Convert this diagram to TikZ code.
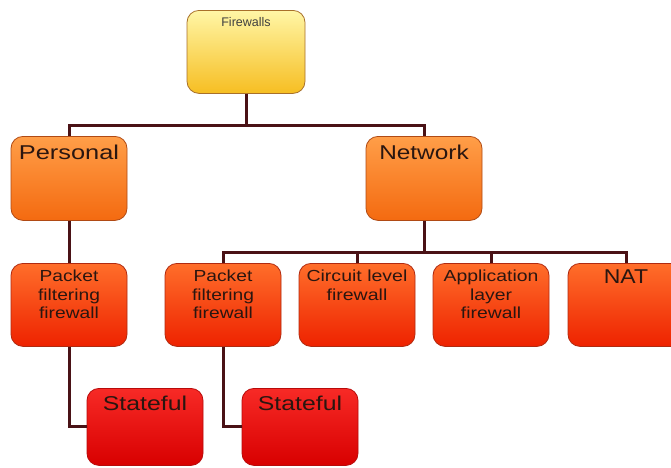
\documentclass[tikz,border=0pt]{standalone}
\usepackage{fontspec}
\setmainfont{Liberation Sans}
\definecolor{fwTop}{HTML}{FFF6A6}
\definecolor{fwBot}{HTML}{F6BE22}
\definecolor{fwEdge}{HTML}{A8702A}
\definecolor{orTop}{HTML}{FF9E48}
\definecolor{orBot}{HTML}{F46A10}
\definecolor{orEdge}{HTML}{B04A14}
\definecolor{rdTop}{HTML}{FF6E2A}
\definecolor{rdBot}{HTML}{EE2200}
\definecolor{rdEdge}{HTML}{B02A10}
\definecolor{stTop}{HTML}{F72A26}
\definecolor{stBot}{HTML}{D80000}
\definecolor{stEdge}{HTML}{B80A0A}
\definecolor{connC}{HTML}{4A1216}
\definecolor{txtC}{HTML}{2A1610}
\newcommand\hstr[2]{\scalebox{#1}[1]{#2}}
\begin{document}
\begin{tikzpicture}[x=1pt,y=-1pt,
  basebox/.style={rounded corners=12pt, minimum width=116pt, inner sep=0pt, anchor=north, line width=0.8pt},
  fwbox/.style={basebox, minimum width=118pt, minimum height=83pt, top color=fwTop, bottom color=fwBot, draw=fwEdge},
  orbox/.style={basebox, minimum height=84pt, top color=orTop, bottom color=orBot, draw=orEdge},
  rdbox/.style={basebox, minimum height=83pt, top color=rdTop, bottom color=rdBot, draw=rdEdge},
  stbox/.style={basebox, minimum height=77pt, top color=stTop, bottom color=stBot, draw=stEdge},
  conn/.style={draw=connC, line width=3pt, line join=miter},
  txt/.style={anchor=north, inner sep=0pt, text=txtC, align=center},
  bigtxt/.style={txt, font=\fontsize{20}{24}\selectfont},
  midtxt/.style={txt, font=\fontsize{16}{18.5}\selectfont},
  fwtxt/.style={txt, text=black!75, font=\fontsize{12.5}{15}\selectfont}
]
\useasboundingbox (0,0) rectangle (671,467);
\clip (0,0) rectangle (671,467);
\fill[white] (0,0) rectangle (671,467);

% boxes
\node[fwbox] (fw) at (246,10) {};
\node[orbox] (per) at (69,136) {};
\node[orbox] (net) at (424,136) {};
\node[rdbox] (pf1) at (69,263) {};
\node[rdbox] (pf2) at (223,263) {};
\node[rdbox] (cl) at (357,263) {};
\node[rdbox] (al) at (491,263) {};
\node[rdbox] (nat) at (626,263) {};
\node[stbox] (st1) at (145,388) {};
\node[stbox] (st2) at (300,388) {};

% connectors
\coordinate (j1) at (246,125);
\coordinate (j2) at (424,252);
\draw[conn] (fw.south) -- (j1);
\draw[conn] (per.north) |- (j1) -| (net.north);
\draw[conn] (net.south) -- (j2);
\draw[conn] (pf2.north) |- (j2) -| (nat.north);
\draw[conn] (cl.north) -- (cl.north |- j2);
\draw[conn] (al.north) -- (al.north |- j2);
\draw[conn] (per.south) -- (pf1.north);
\draw[conn] (pf1.south) |- (st1.west);
\draw[conn] (pf2.south) |- (st2.west);

% texts
\node[fwtxt] (fwT) at (246,17) {Firewalls};
\node[bigtxt] (perT) at (69,145) {\hstr{1.27}{Personal}};
\node[bigtxt] (netT) at (424,145) {\hstr{1.22}{Network}};
\node[midtxt] (pf1T) at (69,270) {\hstr{1.2}{Packet}\\\hstr{1.2}{filtering}\\\hstr{1.2}{firewall}};
\node[midtxt] (pf2T) at (223,270) {\hstr{1.2}{Packet}\\\hstr{1.2}{filtering}\\\hstr{1.2}{firewall}};
\node[midtxt] (clT) at (357,270) {\hstr{1.22}{Circuit level}\\\hstr{1.22}{firewall}};
\node[midtxt] (alT) at (491,270) {\hstr{1.21}{Application}\\\hstr{1.21}{layer}\\\hstr{1.21}{firewall}};
\node[bigtxt] (natT) at (626,270) {\hstr{1.15}{NAT}};
\node[bigtxt] (st1T) at (145,396) {\hstr{1.24}{Stateful}};
\node[bigtxt] (st2T) at (300,396) {\hstr{1.24}{Stateful}};
\end{tikzpicture}
\end{document}
